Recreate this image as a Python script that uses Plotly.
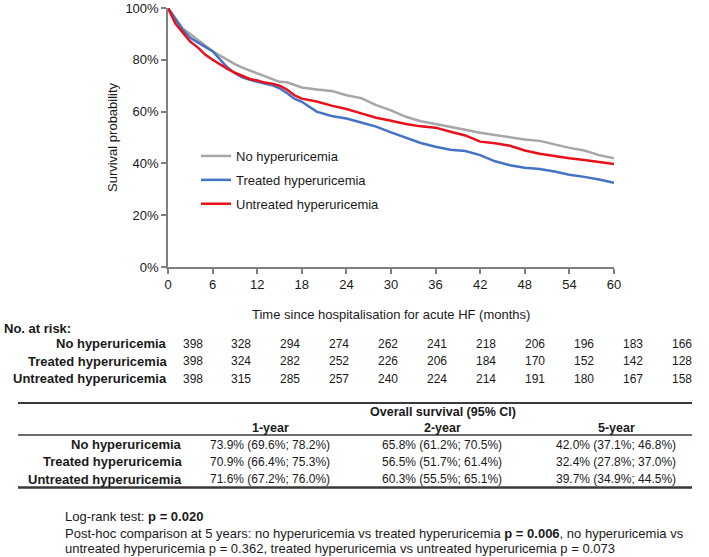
import plotly.graph_objects as go

# Kaplan-Meier curves (months, survival fraction)
months = [0, 1, 2, 3, 4, 5, 6, 7, 8, 9, 10, 11, 12, 13, 14, 15, 16, 17, 18,
          20, 22, 24, 26, 28, 30, 32, 34, 36, 38, 40, 42, 44, 46, 48, 50, 52,
          54, 56, 58, 60]

no_hyper = [1.000, 0.960, 0.920, 0.900, 0.878, 0.855, 0.833, 0.816, 0.798,
            0.783, 0.770, 0.759, 0.745, 0.734, 0.725, 0.715, 0.713, 0.704,
            0.693, 0.685, 0.680, 0.663, 0.652, 0.625, 0.605, 0.580, 0.563,
            0.552, 0.542, 0.530, 0.518, 0.510, 0.500, 0.492, 0.487, 0.472,
            0.460, 0.450, 0.432, 0.420]

treated = [1.000, 0.955, 0.915, 0.885, 0.866, 0.850, 0.833, 0.800, 0.770,
           0.748, 0.732, 0.723, 0.714, 0.708, 0.702, 0.690, 0.672, 0.650,
           0.638, 0.600, 0.583, 0.573, 0.558, 0.542, 0.520, 0.498, 0.479,
           0.464, 0.453, 0.448, 0.432, 0.408, 0.393, 0.383, 0.378, 0.369,
           0.356, 0.348, 0.338, 0.325]

untreated = [1.000, 0.940, 0.905, 0.870, 0.848, 0.820, 0.800, 0.782, 0.765,
             0.750, 0.738, 0.726, 0.720, 0.712, 0.708, 0.700, 0.685, 0.663,
             0.650, 0.639, 0.623, 0.610, 0.593, 0.576, 0.565, 0.552, 0.543,
             0.538, 0.522, 0.508, 0.484, 0.478, 0.468, 0.450, 0.437, 0.428,
             0.420, 0.413, 0.406, 0.398]

group_names = ["No hyperuricemia", "Treated hyperuricemia", "Untreated hyperuricemia"]
group_colors = ["#a6a6a6", "#4472c4", "#e8101a"]

# numbers at risk every 6 months
risk_months = [0, 6, 12, 18, 24, 30, 36, 42, 48, 54, 60]
risk_no = [398, 328, 294, 274, 262, 241, 218, 206, 196, 183, 166]
risk_treated = [398, 324, 282, 252, 226, 206, 184, 170, 152, 142, 128]
risk_untreated = [398, 315, 285, 257, 240, 224, 214, 191, 180, 167, 158]

# overall survival table
os_columns = ["1-year", "2-year", "5-year"]
os_no = ["73.9% (69.6%; 78.2%)", "65.8% (61.2%; 70.5%)", "42.0% (37.1%; 46.8%)"]
os_treated = ["70.9% (66.4%; 75.3%)", "56.5% (51.7%; 61.4%)", "32.4% (27.8%; 37.0%)"]
os_untreated = ["71.6% (67.2%; 76.0%)", "60.3% (55.5%; 65.1%)", "39.7% (34.9%; 44.5%)"]

FONT = "Liberation Sans, Arial, sans-serif"
W, H = 709, 557
L, R, T, B = 168, 95, 8, 290
PW, PH = W - L - R, H - T - B


def px(x):
    return (x - L) / PW


def py(y):
    return (H - B - y) / PH


fig = go.Figure()
for name, col, ys in zip(group_names, group_colors, [no_hyper, treated, untreated]):
    fig.add_trace(go.Scatter(
        x=months, y=ys, mode="lines", name=name, legendgroup=name,
        line=dict(color=col, width=2.5),
    ))

ann = []


def text(x, y, s, size=13, bold=False, anchor="center", **kw):
    if bold:
        s = f"<b>{s}</b>"
    ann.append(dict(x=px(x), y=py(y), xref="paper", yref="paper", text=s,
                    showarrow=False, xanchor=anchor, yanchor="middle",
                    font=dict(size=size, color="#1a1a1a", family=FONT), **kw))


# axis titles
text(391, 314, "Time since hospitalisation for acute HF (months)")
text(112, 137, "Survival probability", textangle=-90)

# numbers at risk
text(2, 328, "No. at risk:", bold=True, anchor="left")
risk_rows = [risk_no, risk_treated, risk_untreated]
for r, (name, vals) in enumerate(zip(group_names, risk_rows)):
    yy = 343.5 + r * 17.5
    text(169, yy, name, bold=True, anchor="right")
    for i, v in enumerate(vals):
        text(192.5 + i * 48.9, yy, str(v), size=12)

# overall survival table
text(443, 412, "Overall survival (95% CI)", bold=True, size=12.5)
col_x = [270, 442, 616]
for cx, c in zip(col_x, os_columns):
    text(cx, 427.5, c, bold=True, size=12.5)
os_rows = [os_no, os_treated, os_untreated]
for r, (name, vals) in enumerate(zip(group_names, os_rows)):
    yy = 444.5 + r * 17.3
    text(184, yy, name, bold=True, anchor="right")
    for cx, v in zip(col_x, vals):
        text(cx, yy, v, size=12)

text(63, 516, "Log-rank test: <b>p = 0.020</b>", anchor="left")
text(63, 533, "Post-hoc comparison at 5 years: no hyperuricemia vs treated hyperuricemia "
     "<b>p = 0.006</b>, no hyperuricemia vs", anchor="left")
text(63, 548.5, "untreated hyperuricemia p = 0.362, treated hyperuricemia vs untreated "
     "hyperuricemia p = 0.073", anchor="left")

shapes = []
for y, w in [(403, 2), (435, 1.5), (487.5, 2.5)]:
    shapes.append(dict(type="line", xref="paper", yref="paper",
                       x0=px(18), x1=px(692), y0=py(y), y1=py(y),
                       line=dict(color="#3a3a3a", width=w)))

axis_common = dict(
    showline=True, linecolor="#7f7f7f", linewidth=1.5,
    ticks="outside", ticklen=5, tickcolor="#7f7f7f", tickwidth=1.5,
    showgrid=False, zeroline=False, automargin=False,
    tickfont=dict(size=13, color="#1a1a1a", family=FONT),
)

fig.update_layout(
    width=W, height=H,
    margin=dict(l=L, r=R, t=T, b=B, autoexpand=False),
    paper_bgcolor="white", plot_bgcolor="white",
    xaxis=dict(range=[0, 60], tickvals=risk_months, **axis_common),
    yaxis=dict(range=[0, 1], tickvals=[0, 0.2, 0.4, 0.6, 0.8, 1.0],
               tickformat=".0%", **axis_common),
    legend=dict(x=px(196), y=py(141), xanchor="left", yanchor="top",
                bgcolor="rgba(0,0,0,0)", itemwidth=30, tracegroupgap=4,
                font=dict(size=13, color="#1a1a1a", family=FONT)),
    annotations=ann,
    shapes=shapes,
    font=dict(family=FONT),
)

fig.write_html("out.html", config={"displayModeBar": False},
               post_script="document.body.style.margin='0';document.body.style.padding='0';")
